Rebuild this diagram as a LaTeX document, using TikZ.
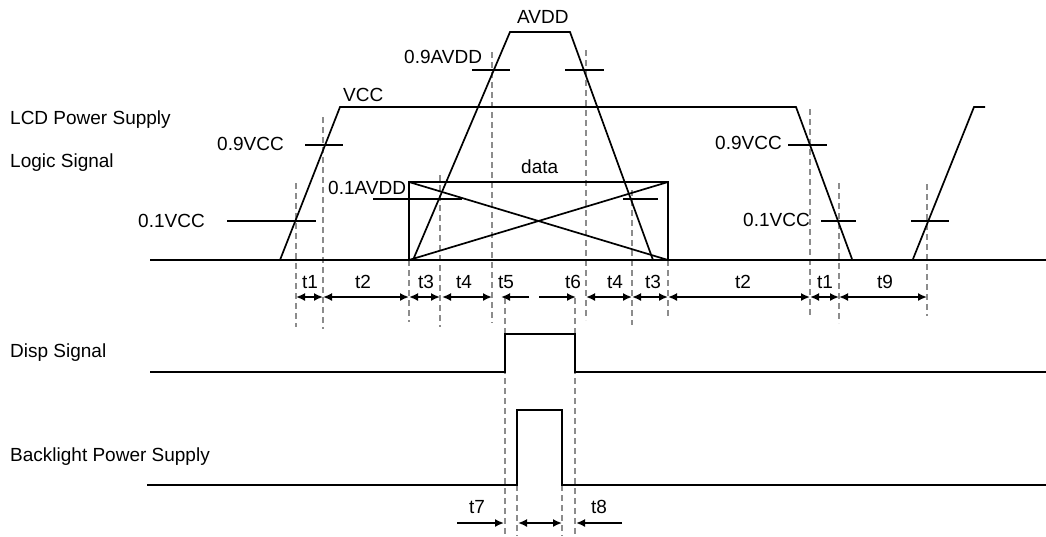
\documentclass[tikz,border=0pt]{standalone}
\usepackage{fontspec}
\setmainfont{Liberation Sans}
\usetikzlibrary{arrows.meta}
\begin{document}
\begin{tikzpicture}[x=1pt,y=-1pt,
  sig/.style={line width=1.7pt,line join=miter},
  tick/.style={line width=1.6pt},
  guide/.style={draw=gray!90,line width=1.2pt,dash pattern=on 6pt off 4pt},
  dim/.style={line width=1.7pt,{Latex[length=9pt,width=8pt]}-{Latex[length=9pt,width=8pt]}},
  dimr/.style={line width=1.7pt,-{Latex[length=9pt,width=8pt]}},
  lbl/.style={inner sep=0pt,anchor=base west,font=\fontsize{19}{22}\selectfont},
  tl/.style={inner sep=0pt,anchor=base,font=\fontsize{19}{22}\selectfont}]
\useasboundingbox (0,0) rectangle (1046,536);
% ---------- labels on left
\node[lbl] (lcd) at (10,124) {LCD Power Supply};
\node[lbl] (logic) at (10,167) {Logic Signal};
\node[lbl] (disp) at (10,357) {Disp Signal};
\node[lbl] (bl) at (10,461) {Backlight Power Supply};
% ---------- guide lines (dashed)
\foreach \n/\x/\a/\b in {g1/296/183/327, g2/323/117/329, g3/409/260/322, g4/440/175/327,
  g5/492/52/323, g6/505/298/536, g7/575/298/536, g8/586/50/320, g9/632/190/325,
  g10/668/260/317, g11/810/109/317, g12/839/183/323, g13/927/184/316,
  g14/517/485/536, g15/562/485/536}{
  \coordinate (\n t) at (\x,\a);
  \coordinate (\n b) at (\x,\b);
  \draw[guide] (\n t) -- (\n b);
}
% ---------- LCD power / logic signal
\coordinate (b0) at (150,260);
\coordinate (bE) at (1046,260);
\coordinate (r1a) at (280,260);
\coordinate (r1b) at (340,107);
\coordinate (f1a) at (796,107);
\coordinate (f1b) at (852,259);
\coordinate (r2a) at (913,259);
\coordinate (r2b) at (974,107);
\coordinate (r2c) at (985,107);
\draw[sig] (b0) -- (bE);
\draw[sig] (r1a) -- (r1b) -- (f1a) -- (f1b);
\draw[sig] (r2a) -- (r2b) -- (r2c);
% AVDD
\coordinate (a1) at (413,260);
\coordinate (a2) at (510,32);
\coordinate (a3) at (570,32);
\coordinate (a4) at (653,260);
\draw[sig] (a1) -- (a2) -- (a3) -- (a4);
% data box
\coordinate (d1) at (409,182);
\coordinate (d2) at (668,182);
\coordinate (d3) at (668,260);
\coordinate (d4) at (409,260);
\draw[sig] (d1) -- (d2) -- (d3) -- (d4) -- cycle;
\draw[sig] (d1) -- (d3);
\draw[sig] (d4) -- (d2);
% level ticks
\foreach \n/\xa/\xb/\y in {k1/227/316/221, k2/305/343/145, k3/472/510/70, k4/565/604/70,
  k5/373/462/199, k6/623/658/199, k7/788/827/145, k8/821/856/221, k9/911/949/221}{
  \coordinate (\n a) at (\xa,\y);
  \coordinate (\n b) at (\xb,\y);
  \draw[tick] (\n a) -- (\n b);
}
% level labels
\node[lbl] (l01vcc) at (138,227) {0.1VCC};
\node[lbl] (l09vcc) at (217,150) {0.9VCC};
\node[lbl] (lvcc) at (343,101) {VCC};
\node[lbl] (lavdd) at (517,23) {AVDD};
\node[lbl] (l09avdd) at (404,63) {0.9AVDD};
\node[lbl] (l01avdd) at (328,194) {0.1AVDD};
\node[lbl] (ldata) at (521,173) {data};
\node[lbl] (r09vcc) at (715,149) {0.9VCC};
\node[lbl] (r01vcc) at (743,226) {0.1VCC};
% ---------- timing arrows
\foreach \n/\xa/\xb/\xl/\txt in {m1/296/323/310/t1, m2/323/409/363/t2, m3/409/440/426/t3,
  m4/442/492/464/t4, m5/586/632/615/t4, m6/632/668/653/t3, m7/668/810/743/t2,
  m8/810/839/825/t1, m9/839/927/885/t9}{
  \coordinate (\n a) at (\xa,297);
  \coordinate (\n b) at (\xb,297);
  \draw[dim] (\n a) -- (\n b);
  \node[tl] (\n l) at (\xl,288) {\txt};
}
\coordinate (t5a) at (529,297);
\coordinate (t5b) at (501,297);
\draw[dimr] (t5a) -- (t5b);
\node[tl] (t5l) at (506,288) {t5};
\coordinate (t6a) at (539,297);
\coordinate (t6b) at (576,297);
\draw[dimr] (t6a) -- (t6b);
\node[tl] (t6l) at (573,288) {t6};
% ---------- Disp signal
\coordinate (p0) at (150,372);
\coordinate (p1) at (505,372);
\coordinate (p2) at (505,334);
\coordinate (p3) at (575,334);
\coordinate (p4) at (575,372);
\coordinate (p5) at (1046,372);
\draw[sig] (p0) -- (p1) -- (p2) -- (p3) -- (p4) -- (p5);
% ---------- Backlight
\coordinate (q0) at (147,485);
\coordinate (q1) at (517,485);
\coordinate (q2) at (517,410);
\coordinate (q3) at (562,410);
\coordinate (q4) at (562,485);
\coordinate (q5) at (1046,485);
\draw[sig] (q0) -- (q1) -- (q2) -- (q3) -- (q4) -- (q5);
% t7, t8
\coordinate (t7a) at (457,523);
\coordinate (t7b) at (504,523);
\draw[dimr] (t7a) -- (t7b);
\node[tl] (t7l) at (477,513) {t7};
\coordinate (mba) at (518,523);
\coordinate (mbb) at (562,523);
\draw[dim] (mba) -- (mbb);
\coordinate (t8a) at (622,523);
\coordinate (t8b) at (576,523);
\draw[dimr] (t8a) -- (t8b);
\node[tl] (t8l) at (599,513) {t8};
\end{tikzpicture}
\end{document}
